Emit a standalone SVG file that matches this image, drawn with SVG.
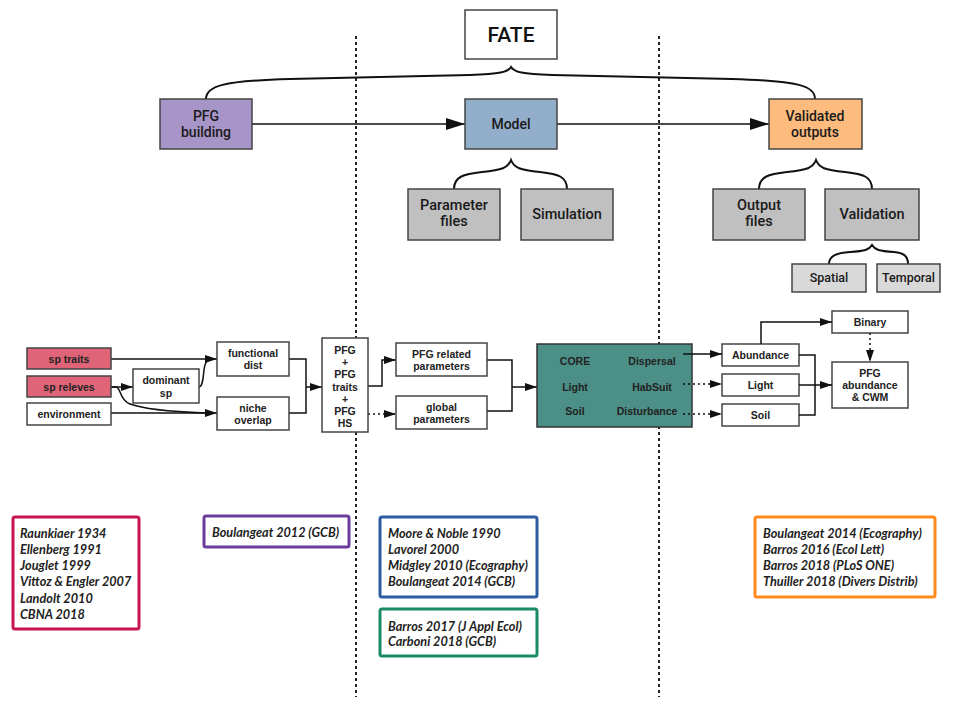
<svg xmlns="http://www.w3.org/2000/svg" width="972" height="722" viewBox="0 0 972 722">
<defs>
<style>
.bg{fill:#ffffff}
.sep{stroke:#222;stroke-width:2;stroke-dasharray:3,3;fill:none}
.top{stroke:#444;stroke-width:1.5}
.t-top{font-family:Roboto,"Liberation Sans",sans-serif;font-size:14px;font-weight:500;fill:#1a1a1a;text-anchor:middle}
.t-gray{font-family:Roboto,"Liberation Sans",sans-serif;font-size:14.5px;font-weight:500;fill:#1a1a1a;text-anchor:middle}
.t-small{font-family:Roboto,"Liberation Sans",sans-serif;font-size:12.5px;font-weight:500;fill:#1a1a1a;text-anchor:middle}
.brace{fill:none;stroke:#111;stroke-width:2}
.box{fill:#fff;stroke:#444;stroke-width:1.5}
.t-mid{font-family:"Liberation Sans",Arial,sans-serif;font-size:10.5px;font-weight:bold;fill:#222;text-anchor:middle}
.con{fill:none;stroke:#111;stroke-width:1.5}
.dot{fill:none;stroke:#111;stroke-width:1.5;stroke-dasharray:2,3}
.ref{fill:#fff;stroke-width:3}
.t-ref{font-family:Lato,"Liberation Sans",sans-serif;font-size:12.7px;font-weight:bold;font-style:italic;fill:#222}
</style>
<marker id="ah" markerWidth="12" markerHeight="8" refX="12" refY="4" orient="auto" markerUnits="userSpaceOnUse"><path d="M0,0 L12,4 L0,8 z" fill="#111"/></marker>
<marker id="ahBig" markerWidth="19" markerHeight="12" refX="19" refY="6" orient="auto" markerUnits="userSpaceOnUse"><path d="M0,0 L19,6 L0,12 z" fill="#111"/></marker>
</defs>
<rect class="bg" x="0" y="0" width="972" height="722"/>

<g id="separators">
<line class="sep" x1="356" y1="36" x2="356" y2="697"/>
<line class="sep" x1="659" y1="36" x2="659" y2="697"/>
</g>

<g id="connectors">
<path class="brace" d="M206,99 C206,86 222,81 290,79 L470,75 C500,74 508,72 511,67 C514,72 522,74 552,75 L732,79 C800,81 815,86 815,99"/>
<path class="brace" d="M454,189 C454,177 463,174 482,172 C502,170 508,168 511,160 C514,168 520,170 540,172 C559,174 567,177 567,189"/>
<path class="brace" d="M759,189 C759,177 768,174 787,172 C807,170 813,168 816,160 C819,168 825,170 845,172 C864,174 872,177 872,189"/>
<path class="brace" d="M829,264 C829,256 836,253 850,252 C865,251 869,250 872,245 C875,250 879,251 894,252 C904,253 908,256 908,264"/>
<line class="con" x1="252" y1="124" x2="465" y2="124" marker-end="url(#ahBig)"/>
<line class="con" x1="557" y1="124" x2="769" y2="124" marker-end="url(#ahBig)"/>

<path class="con" d="M111,359 L217,359" marker-end="url(#ah)"/>
<path class="con" d="M111,387 L133,387" marker-end="url(#ah)"/>
<path class="con" d="M199,387 C204,387 203,370 205,365 C206,361 208,359 212,359"/>
<path class="con" d="M111,387 L116,387 C121,387 119,400 130,404 C146,410 180,412 205,413"/>
<path class="con" d="M111,413 L217,413" marker-end="url(#ah)"/>
<path class="con" d="M289,359 L306,359 L306,413 L289,413"/>
<path class="con" d="M306,387 L322,387" marker-end="url(#ah)"/>
<path class="con" d="M368,386 L382,386 L382,360 L396,360" marker-end="url(#ah)"/>
<path class="dot" d="M368,414 L396,414" marker-end="url(#ah)"/>
<path class="con" d="M487,360 L512,360 L512,411 L487,411"/>
<path class="con" d="M512,387 L537,387" marker-end="url(#ah)"/>
</g>

<g id="fate"><rect class="top" x="465" y="10" width="92" height="49" fill="#fff"/><text x="511" y="42" style="font-family:Roboto,'Liberation Sans',sans-serif;font-size:21px;font-weight:500;fill:#111;text-anchor:middle">FATE</text></g>
<g id="pfg-building"><rect class="top" x="160" y="99" width="92" height="50" fill="#a795c7"/><text class="t-top" x="206" y="121">PFG</text><text class="t-top" x="206" y="137">building</text></g>
<g id="model"><rect class="top" x="465" y="99" width="92" height="50" fill="#93aecb"/><text class="t-top" x="511" y="129">Model</text></g>
<g id="validated-outputs"><rect class="top" x="769" y="99" width="93" height="50" fill="#fdbc7e"/><text class="t-top" x="815" y="121">Validated</text><text class="t-top" x="815" y="137">outputs</text></g>
<g id="parameter-files"><rect class="top" x="408" y="189" width="92" height="51" fill="#c0c0c0"/><text class="t-gray" x="454" y="210">Parameter</text><text class="t-gray" x="454" y="226">files</text></g>
<g id="simulation"><rect class="top" x="521" y="189" width="92" height="51" fill="#c0c0c0"/><text class="t-gray" x="567" y="219">Simulation</text></g>
<g id="output-files"><rect class="top" x="713" y="189" width="92" height="51" fill="#c0c0c0"/><text class="t-gray" x="759" y="210">Output</text><text class="t-gray" x="759" y="226">files</text></g>
<g id="validation"><rect class="top" x="825" y="189" width="94" height="51" fill="#c0c0c0"/><text class="t-gray" x="872" y="219">Validation</text></g>
<g id="spatial"><rect class="top" x="792" y="264" width="74" height="28" fill="#d9d9d9"/><text class="t-small" x="829" y="282">Spatial</text></g>
<g id="temporal"><rect class="top" x="877" y="264" width="63" height="28" fill="#d9d9d9"/><text class="t-small" x="908.5" y="282">Temporal</text></g>

<g id="sp-traits"><rect class="box" x="27" y="348" width="84" height="21" style="fill:#e06478"/><text class="t-mid" x="69" y="362.5">sp traits</text></g>
<g id="sp-releves"><rect class="box" x="27" y="376" width="84" height="21" style="fill:#e06478"/><text class="t-mid" x="69" y="390.5">sp releves</text></g>
<g id="environment"><rect class="box" x="27" y="403" width="84" height="22"/><text class="t-mid" x="69" y="418">environment</text></g>
<g id="dominant-sp"><rect class="box" x="133" y="369" width="66" height="34"/><text class="t-mid" x="166" y="384">dominant</text><text class="t-mid" x="166" y="396.5">sp</text></g>
<g id="functional-dist"><rect class="box" x="217" y="342" width="72" height="34"/><text class="t-mid" x="253" y="357">functional</text><text class="t-mid" x="253" y="369">dist</text></g>
<g id="niche-overlap"><rect class="box" x="217" y="397" width="72" height="33"/><text class="t-mid" x="253" y="412">niche</text><text class="t-mid" x="253" y="424">overlap</text></g>
<g id="pfg-hs"><rect class="box" x="322" y="338" width="46" height="94"/>
<text class="t-mid" x="345" y="354">PFG</text><text class="t-mid" x="345" y="366">+</text><text class="t-mid" x="345" y="378">PFG</text><text class="t-mid" x="345" y="390.5">traits</text><text class="t-mid" x="345" y="403">+</text><text class="t-mid" x="345" y="415">PFG</text><text class="t-mid" x="345" y="427">HS</text></g>
<g id="pfg-related-parameters"><rect class="box" x="396" y="343" width="91" height="33"/><text class="t-mid" x="441.5" y="358">PFG related</text><text class="t-mid" x="441.5" y="370">parameters</text></g>
<g id="global-parameters"><rect class="box" x="396" y="396" width="91" height="33"/><text class="t-mid" x="441.5" y="411">global</text><text class="t-mid" x="441.5" y="423">parameters</text></g>
<g id="core"><rect x="537" y="344" width="155" height="83" fill="#4b8f86" stroke="#333" stroke-width="1.5"/>
<text class="t-mid" x="575" y="365">CORE</text><text class="t-mid" x="652" y="365">Dispersal</text>
<text class="t-mid" x="575" y="391">Light</text><text class="t-mid" x="652" y="391">HabSuit</text>
<text class="t-mid" x="575" y="415">Soil</text><text class="t-mid" x="647" y="415">Disturbance</text></g>
<g id="abundance"><rect class="box" x="722" y="344" width="77" height="22"/><text class="t-mid" x="760.5" y="359">Abundance</text></g>
<g id="light-out"><rect class="box" x="722" y="374" width="77" height="22"/><text class="t-mid" x="760.5" y="389">Light</text></g>
<g id="soil-out"><rect class="box" x="722" y="404" width="77" height="22"/><text class="t-mid" x="760.5" y="419">Soil</text></g>
<g id="binary"><rect class="box" x="832" y="311" width="76" height="22"/><text class="t-mid" x="870" y="326">Binary</text></g>
<g id="pfg-abundance-cwm"><rect class="box" x="832" y="362" width="76" height="46"/><text class="t-mid" x="870" y="376.5">PFG</text><text class="t-mid" x="870" y="389">abundance</text><text class="t-mid" x="870" y="401">&amp; CWM</text></g>

<g id="connectors-right">
<path class="con" d="M683,354 L722,354" marker-end="url(#ah)"/>
<path class="dot" d="M683,384 L722,384" marker-end="url(#ah)"/>
<path class="dot" d="M683,414 L722,414" marker-end="url(#ah)"/>
<path class="con" d="M761,344 L761,322 L832,322" marker-end="url(#ah)"/>
<path class="dot" d="M870,333 L870,362" marker-end="url(#ah)"/>
<path class="con" d="M799,355 L815,355 L815,415 L799,415"/>
<path class="con" d="M799,385 L832,385" marker-end="url(#ah)"/>
</g>

<g id="ref-traits"><rect class="ref" x="13" y="517" width="126" height="112" rx="2" stroke="#c8174e"/>
<text class="t-ref" x="20" y="538">Raunkiaer 1934</text><text class="t-ref" x="20" y="554">Ellenberg 1991</text><text class="t-ref" x="20" y="570">Jouglet 1999</text><text class="t-ref" x="20" y="586">Vittoz &amp; Engler 2007</text><text class="t-ref" x="20" y="603">Landolt 2010</text><text class="t-ref" x="20" y="619">CBNA 2018</text></g>
<g id="ref-pfg"><rect class="ref" x="204" y="516" width="145" height="31" rx="2" stroke="#6a3d9a"/><text class="t-ref" x="212" y="537">Boulangeat 2012 (GCB)</text></g>
<g id="ref-model"><rect class="ref" x="380" y="517" width="157" height="80" rx="2" stroke="#2d5ca3"/>
<text class="t-ref" x="388" y="538">Moore &amp; Noble 1990</text><text class="t-ref" x="388" y="554">Lavorel 2000</text><text class="t-ref" x="388" y="570">Midgley 2010 (Ecography)</text><text class="t-ref" x="388" y="586">Boulangeat 2014 (GCB)</text></g>
<g id="ref-apps"><rect class="ref" x="380" y="609" width="157" height="47" rx="2" stroke="#1b8a68"/>
<text class="t-ref" x="388" y="631">Barros 2017 (J Appl Ecol)</text><text class="t-ref" x="388" y="646">Carboni 2018 (GCB)</text></g>
<g id="ref-outputs"><rect class="ref" x="755" y="517" width="180" height="80" rx="2" stroke="#ff8a1c"/>
<text class="t-ref" x="763" y="538">Boulangeat 2014 (Ecography)</text><text class="t-ref" x="763" y="554">Barros 2016 (Ecol Lett)</text><text class="t-ref" x="763" y="570">Barros 2018 (PLoS ONE)</text><text class="t-ref" x="763" y="586">Thuiller 2018 (Divers Distrib)</text></g>
</svg>
